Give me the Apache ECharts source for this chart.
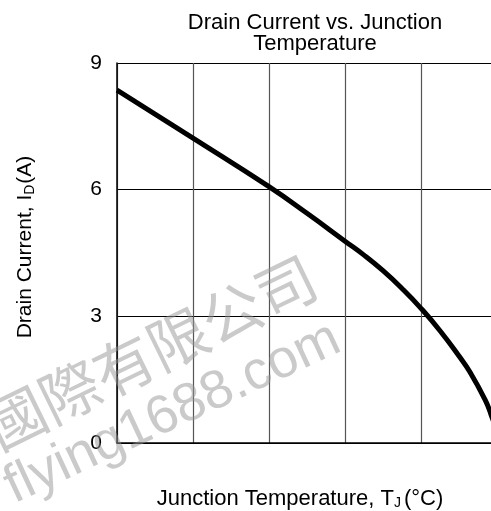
<!DOCTYPE html>
<html>
<head>
<meta charset="utf-8">
<script src="https://cdn.jsdelivr.net/npm/echarts@6/dist/echarts.min.js"></script>
<style>
    html, body { margin: 0; padding: 0; background: #fff; }
    #chart { width: 491px; height: 511px; }
</style>
</head>
<body>
<div id="chart"></div>
<script>
// junction temperature (°C) and drain current (A)
const temps = [25, 50, 75, 87.5, 100, 106.25, 112.5, 118.75, 125, 131.25, 137.5, 141.1, 146.1, 148, 149.5, 150]
const current = [8.36, 7.22, 6.07, 5.44, 4.78, 4.45, 4.08, 3.66, 3.19, 2.66, 2.06, 1.68, 1.02, 0.68, 0.34, 0]
const yTicks = [0, 3, 6, 9]

const chart = echarts.init(document.getElementById('chart'))
const font = 'Liberation Sans, Arial, sans-serif'

chart.setOption({
    animation: false,
    title: {
        text: 'Drain Current vs. Junction\nTemperature',
        left: 310,
        top: 7,
        textAlign: 'center',
        textStyle: {
            fontFamily: font,
            fontSize: 22,
            fontWeight: 'normal',
            color: '#000',
            lineHeight: 21
        }
    },
    grid: {
        left: 117,
        top: 63,
        width: 380,
        height: 380,
        outerBoundsMode: 'none'
    },
    xAxis: {
        type: 'value',
        min: 25,
        max: 150,
        interval: 25,
        name: '{s|Junction Temperature, T}{sub|J}{s|(°C)}',
        nameLocation: 'middle',
        nameGap: 44,
        nameTextStyle: {
            padding: [0, 14, 0, 0],
            rich: {
                s: { fontFamily: font, fontSize: 22, color: '#000' },
                sub: { fontFamily: font, fontSize: 14, color: '#000', verticalAlign: 'bottom', padding: [9, 3, 0, 0] }
            }
        },
        axisLine: { show: true, onZero: false, lineStyle: { color: '#000', width: 1.5 } },
        axisTick: { show: false },
        axisLabel: { show: false },
        splitLine: { show: true, lineStyle: { color: '#555', width: 1.2 } }
    },
    yAxis: {
        type: 'value',
        min: 0,
        max: 9,
        interval: 3,
        name: '{s|Drain Current, I}{sub|D}{s|(A)}',
        nameLocation: 'middle',
        nameGap: 80,
        nameRotate: 90,
        nameTextStyle: {
            padding: [0, 0, 0, 12],
            rich: {
                s: { fontFamily: font, fontSize: 21, color: '#000' },
                sub: { fontFamily: font, fontSize: 14, color: '#000', verticalAlign: 'bottom', padding: [9, 1, 0, 0] }
            }
        },
        axisLine: { show: true, lineStyle: { color: '#000', width: 1.5 } },
        axisTick: { show: false },
        axisLabel: {
            margin: 15,
            fontFamily: font,
            fontSize: 21,
            color: '#000',
            formatter: function (v) { return yTicks.indexOf(v) >= 0 ? String(v) : '' }
        },
        splitLine: { show: true, lineStyle: { color: '#000', width: 1.2 } }
    },
    graphic: [{
        type: 'text',
        x: -11,
        y: 431,
        rotation: 26 * Math.PI / 180,
        silent: true,
        z: 100,
        style: {
            text: '國際有限公司',
            font: '60px Noto Sans CJK SC',
            fill: 'rgba(150,150,150,0.5)',
            textAlign: 'left',
            textVerticalAlign: 'middle'
        }
    }, {
        type: 'text',
        x: 8,
        y: 490,
        rotation: 25 * Math.PI / 180,
        silent: true,
        z: 100,
        style: {
            text: 'flying1688.com',
            font: '54px Liberation Sans',
            fill: 'rgba(150,150,150,0.5)',
            textAlign: 'left',
            textVerticalAlign: 'middle'
        }
    }],
    series: [{
        type: 'line',
        smooth: 0.5,
        showSymbol: false,
        data: temps.map((t, i) => [t, current[i]]),
        lineStyle: { color: '#000', width: 5 },
        itemStyle: { color: '#000' }
    }]
})
</script>
</body>
</html>
